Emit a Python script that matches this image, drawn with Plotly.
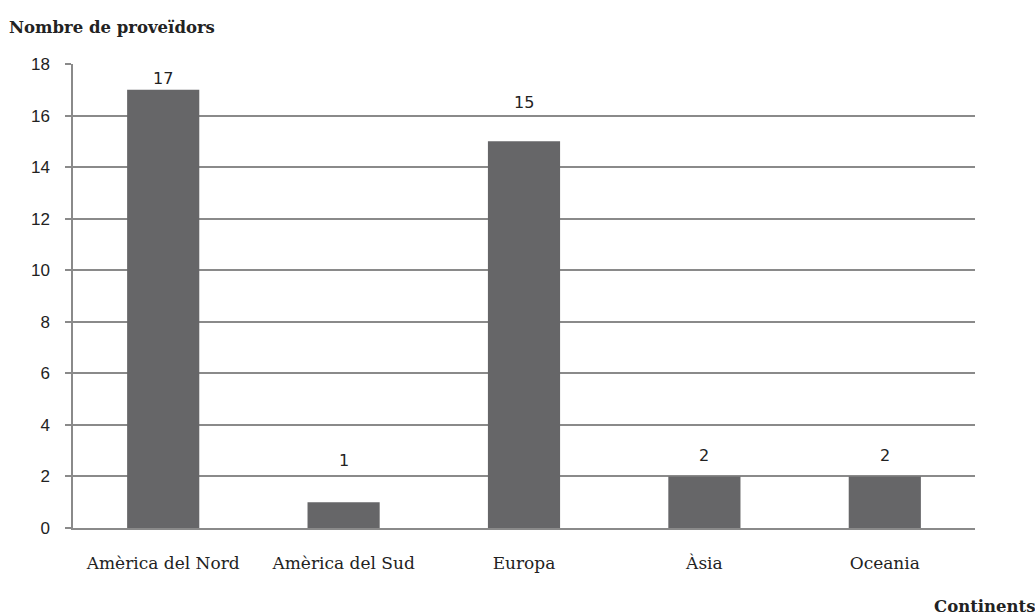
import plotly.graph_objects as go

categories = ["Amèrica del Nord", "Amèrica del Sud", "Europa", "Àsia", "Oceania"]
values = [17, 1, 15, 2, 2]
y_ticks = [0, 2, 4, 6, 8, 10, 12, 14, 16, 18]
# vertical offset of each value label above its bar (axis units)
label_offsets = [0.45, 1.6, 1.5, 0.83, 0.83]

fig = go.Figure()
fig.add_trace(go.Bar(
    x=categories, y=values,
    marker=dict(color="#666668", line=dict(width=0)),
    width=0.4,
    hoverinfo="skip",
))

annots = []
for c, v, off in zip(categories, values, label_offsets):
    annots.append(dict(
        x=c, y=v + off, text=str(v), showarrow=False,
        font=dict(family="DejaVu Sans", size=16, color="#222"),
        yanchor="middle",
    ))

annots += [
    dict(text="<b>Nombre de proveïdors</b>", xref="paper", yref="paper",
         x=-66/902, y=1 + 37/464, xanchor="left", yanchor="middle", showarrow=False,
         font=dict(family="DejaVu Serif", size=16.5, color="#222")),
    dict(text="<b>Continents</b>", xref="paper", yref="paper",
         x=1 + 62/902, y=-78/464, xanchor="right", yanchor="middle", showarrow=False,
         font=dict(family="DejaVu Serif", size=16.5, color="#222")),
]

fig.update_layout(
    width=1035, height=615,
    margin=dict(l=73, r=60, t=64, b=87),
    paper_bgcolor="white", plot_bgcolor="white",
    showlegend=False,
    bargap=0.6,
    xaxis=dict(
        showline=True, linecolor="#8a8a8a", linewidth=1.5,
        ticks="", showgrid=False,
        tickfont=dict(family="DejaVu Serif", size=17, color="#222"),
        ticklabelstandoff=19,
    ),
    yaxis=dict(
        range=[0, 18], tickvals=y_ticks,
        showline=True, linecolor="#8a8a8a", linewidth=1.5,
        ticks="outside", ticklen=6, tickcolor="#8a8a8a", tickwidth=1.5,
        showgrid=True, gridcolor="#8a8a8a", gridwidth=1.5,
        tickfont=dict(family="Liberation Sans", size=17, color="#222"),
        ticklabelstandoff=12,
        zeroline=False,
    ),
    annotations=annots,
)

fig.write_html("out.html")
